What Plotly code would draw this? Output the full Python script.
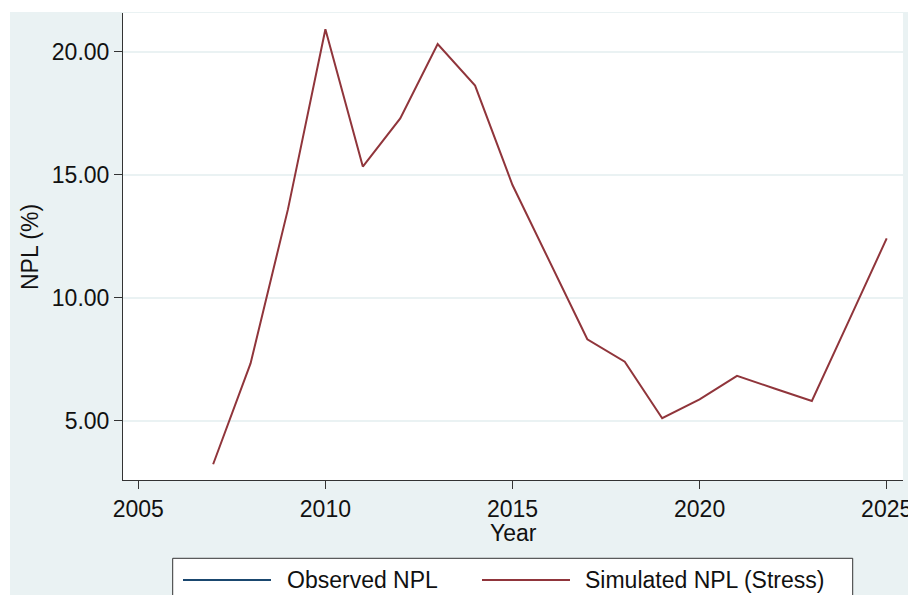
import plotly.graph_objects as go

# ---- data ----
years = list(range(2007, 2026))
observed_npl = [None] * len(years)  # no observed line is visible in the chart
simulated_npl = [3.23, 7.33, 13.6, 20.91, 15.33, 17.29, 20.31, 18.62, 14.58, 11.41,
                 8.31, 7.40, 5.10, 5.87, 6.82, 6.31, 5.80, 9.10, 12.41]
x_ticks = [2005, 2010, 2015, 2020, 2025]
y_ticks = [5, 10, 15, 20]
series_names = ["Observed NPL", "Simulated NPL (Stress)"]
series_colors = ["#1A476F", "#90353B"]

# ---- geometry (pixels) ----
W, H = 908, 595
L, R, T, B = 123, 903, 13, 480
pw, ph = R - L, B - T

def px(x):
    return (x - L) / pw

def py(y):
    return (B - y) / ph

FONT = "Liberation Sans, Arial, sans-serif"
BAND = "#EAF2F3"

fig = go.Figure()
fig.add_trace(go.Scatter(x=years, y=observed_npl, mode="lines", name=series_names[0],
                         line=dict(color=series_colors[0], width=2), showlegend=False))
fig.add_trace(go.Scatter(x=years, y=simulated_npl, mode="lines", name=series_names[1],
                         line=dict(color=series_colors[1], width=2), showlegend=False))

shapes = [
    # white strips at the left and top edges (outside the bluish band)
    dict(type="rect", xref="paper", yref="paper", x0=px(-5), x1=px(10), y0=py(-5), y1=py(W),
         fillcolor="white", line=dict(width=0), layer="below"),
    dict(type="rect", xref="paper", yref="paper", x0=px(-5), x1=px(W + 5), y0=py(12), y1=py(-5),
         fillcolor="white", line=dict(width=0), layer="below"),
    # legend box
    dict(type="rect", xref="paper", yref="paper", x0=px(172.7), x1=px(852.7), y0=py(558.3), y1=py(620),
         fillcolor="white", line=dict(color="#333333", width=1)),
    dict(type="line", xref="paper", yref="paper", x0=px(183), x1=px(271), y0=py(580), y1=py(580),
         line=dict(color=series_colors[0], width=2)),
    dict(type="line", xref="paper", yref="paper", x0=px(482), x1=px(570), y0=py(580), y1=py(580),
         line=dict(color=series_colors[1], width=2)),
]

annotations = [
    dict(text="Year", xref="paper", yref="paper", x=px(513), y=py(533), xanchor="center", yanchor="middle",
         showarrow=False, font=dict(family=FONT, size=23, color="#111111")),
    dict(text="NPL (%)", xref="paper", yref="paper", x=px(29.3), y=py(246.7), xanchor="center", yanchor="middle",
         textangle=-90, showarrow=False, font=dict(family=FONT, size=23, color="#111111")),
    dict(text=series_names[0], xref="paper", yref="paper", x=px(285), y=py(580), xanchor="left", yanchor="middle",
         showarrow=False, font=dict(family=FONT, size=23, color="#111111")),
    dict(text=series_names[1], xref="paper", yref="paper", x=px(583), y=py(580), xanchor="left", yanchor="middle",
         showarrow=False, font=dict(family=FONT, size=23, color="#111111")),
]

fig.update_layout(
    width=W, height=H,
    margin=dict(l=L, r=W - R, t=T, b=H - B, pad=0, autoexpand=False),
    paper_bgcolor=BAND, plot_bgcolor="white",
    showlegend=False,
    shapes=shapes, annotations=annotations,
    font=dict(family=FONT, size=23, color="#111111"),
)
fig.update_xaxes(range=[2004.591, 2025.436], tickvals=x_ticks, ticktext=[str(v) for v in x_ticks],
                 showgrid=False, zeroline=False, showline=True, linecolor="#333333", linewidth=1,
                 ticks="outside", ticklen=8, tickcolor="#333333", tickwidth=1,
                 ticklabeloverflow="allow", automargin=False,
                 tickfont=dict(family=FONT, size=23, color="#111111"))
fig.update_yaxes(range=[2.589, 21.573], tickvals=y_ticks, tickformat=".2f",
                 showgrid=True, gridcolor=BAND, gridwidth=1.5, zeroline=False,
                 showline=True, linecolor="#333333", linewidth=1,
                 ticks="outside", ticklen=8, tickcolor="#333333", tickwidth=1,
                 automargin=False,
                 tickfont=dict(family=FONT, size=23, color="#111111"))

fig.write_html("out.html")
